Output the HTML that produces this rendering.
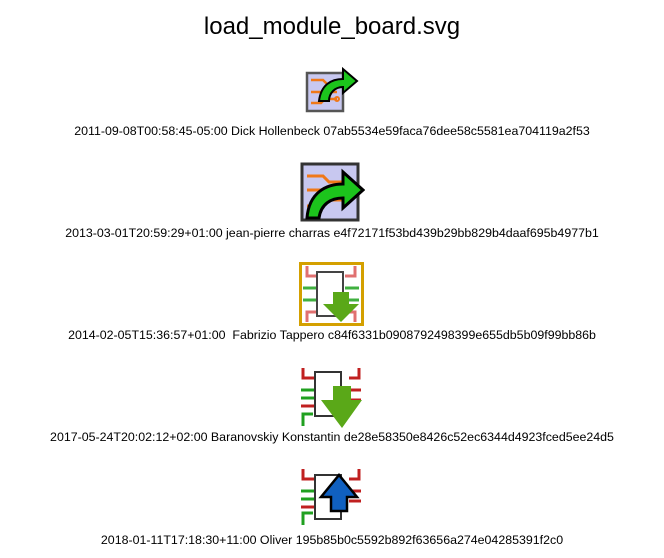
<!DOCTYPE html>
<html><head><style>
html,body{margin:0;padding:0;background:#fff;}
body{width:664px;height:558px;position:relative;overflow:hidden;font-family:"Liberation Sans",sans-serif;}
.t{position:absolute;left:0;width:664px;text-align:center;font-size:12.4px;color:#000;white-space:pre;}
svg{position:absolute;}
</style></head><body>
<div class="t" style="top:13px;font-size:24px;">load_module_board.svg</div>

<svg style="left:305px;top:65px" width="54" height="50" viewBox="0 0 54 50">
<rect x="2" y="8" width="36" height="38" fill="#c8c8f0" stroke="#555" stroke-width="2.5"/>
<g stroke="#f07818" stroke-width="2.5" fill="none"><path d="M6 15h12l4 4h10M6 27h26M6 38h10l4 -4h12"/></g>
<circle cx="32" cy="19" r="2" fill="none" stroke="#f07818" stroke-width="2"/>
<circle cx="32" cy="34" r="2" fill="none" stroke="#f07818" stroke-width="2"/>
<path d="M14 36 C16 20 26 14 38 14 V4 L52 16 L38 28 V22 C30 22 24 28 24 36Z" fill="#1cc41c" stroke="#000" stroke-width="2"/>
</svg>
<div class="t" style="top:124px">2011-09-08T00:58:45-05:00 Dick Hollenbeck 07ab5534e59faca76dee58c5581ea704119a2f53</div>

<svg style="left:299px;top:160px" width="66" height="64" viewBox="0 0 66 64">
<rect x="3" y="4" width="56" height="56" fill="#c8c8f0" stroke="#333" stroke-width="3"/>
<g stroke="#f07818" stroke-width="3" fill="none"><path d="M8 16h16l6 6h24M8 30h44M8 46h12l6-6h26"/></g>
<path d="M8 58 C10 32 28 24 44 24 V12 L64 30 L44 48 V38 C32 38 22 44 20 58Z" fill="#1cc41c" stroke="#000" stroke-width="3"/>
</svg>
<div class="t" style="top:226px">2013-03-01T20:59:29+01:00 jean-pierre charras e4f72171f53bd439b29bb829b4daaf695b4977b1</div>

<svg style="left:299px;top:262px" width="65" height="64" viewBox="0 0 65 64">
<rect x="1.5" y="1.5" width="62" height="61" fill="#fff" stroke="#d4a000" stroke-width="3"/>
<g stroke-width="3" fill="none"><path d="M8 4v10h10M8 60v-10h10M56 4v10h-10M56 60v-10h-10" stroke="#e07070"/><path d="M4 26h14M4 38h14M46 26h14M46 38h14" stroke="#40b040"/></g>
<rect x="18" y="10" width="26" height="44" fill="#fff" stroke="#444" stroke-width="2"/>
<path d="M34 30h16v12h10L42 60 24 42h10z" fill="#5aa818"/>
</svg>
<div class="t" style="top:328px">2014-02-05T15:36:57+01:00  Fabrizio Tappero c84f6331b0908792498399e655db5b09f99bb86b</div>

<svg style="left:299px;top:364px" width="65" height="66" viewBox="0 0 65 66">
<g stroke-width="3" fill="none"><path d="M4 4v10h14" stroke="#c02020"/><path d="M4 62v-12h10" stroke="#20a020"/><path d="M60 4v10h-10M50 26h12M50 36h12" stroke="#c02020"/><path d="M2 26h14M2 34h14" stroke="#20a020"/><path d="M2 42h14" stroke="#c02020"/></g>
<rect x="16" y="8" width="26" height="44" fill="#fff" stroke="#333" stroke-width="2"/>
<path d="M34 22h18v14h11L43 64 22 36h12z" fill="#5aa818"/>
</svg>
<div class="t" style="top:430px">2017-05-24T20:02:12+02:00 Baranovskiy Konstantin de28e58350e8426c52ec6344d4923fced5ee24d5</div>

<svg style="left:299px;top:465px" width="65" height="64" viewBox="0 0 65 64">
<g stroke-width="3" fill="none"><path d="M4 4v10h14" stroke="#c02020"/><path d="M4 60v-12h10" stroke="#20a020"/><path d="M60 4v10h-10M50 26h12M50 36h12" stroke="#c02020"/><path d="M2 26h14M2 34h14" stroke="#20a020"/><path d="M2 42h14" stroke="#c02020"/></g>
<rect x="16" y="10" width="26" height="44" fill="#fff" stroke="#333" stroke-width="2"/>
<path d="M32 46V32H22L40 10 58 32H48v14z" fill="#1060c0" stroke="#000" stroke-width="2.5"/>
</svg>
<div class="t" style="top:533px">2018-01-11T17:18:30+11:00 Oliver 195b85b0c5592b892f63656a274e04285391f2c0</div>
</body></html>
